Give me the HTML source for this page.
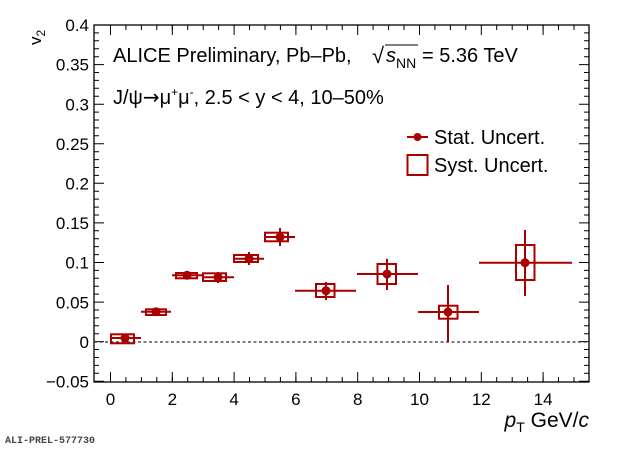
<!DOCTYPE html>
<html><head><meta charset="utf-8"><style>
html,body{margin:0;padding:0;background:#fff;}
svg{display:block;font-family:"Liberation Sans",sans-serif;}
</style></head><body>
<svg width="620" height="449" viewBox="0 0 620 449" xmlns="http://www.w3.org/2000/svg">
<rect x="94" y="25" width="495" height="357" fill="none" stroke="#000" stroke-width="1.3"/>
<g stroke="#000" stroke-width="1">
<path d="M110.5 382v-10M141.4 382v-5M172.3 382v-5M203.2 382v-5M234.1 382v-10M265 382v-5M295.9 382v-5M326.8 382v-5M357.7 382v-10M388.6 382v-5M419.5 382v-5M450.4 382v-5M481.3 382v-10M512.2 382v-5M543.1 382v-5M574 382v-5
M110.5 25v10M141.4 25v5M172.3 25v5M203.2 25v5M234.1 25v10M265 25v5M295.9 25v5M326.8 25v5M357.7 25v10M388.6 25v5M419.5 25v5M450.4 25v5M481.3 25v10M512.2 25v5M543.1 25v5M574 25v5
M125.9 382v-5M156.8 382v-5M187.7 382v-5M218.6 382v-5M249.5 382v-5M280.4 382v-5M311.3 382v-5M342.2 382v-5M373.1 382v-5M404 382v-5M434.9 382v-5M465.8 382v-5M496.7 382v-5M527.6 382v-5M558.5 382v-5
M125.9 25v5M156.8 25v5M187.7 25v5M218.6 25v5M249.5 25v5M280.4 25v5M311.3 25v5M342.2 25v5M373.1 25v5M404 25v5M434.9 25v5M465.8 25v5M496.7 25v5M527.6 25v5M558.5 25v5"/>
<path d="M172.3 382v-10M295.9 382v-10M419.5 382v-10M543.1 382v-10M172.3 25v10M295.9 25v10M419.5 25v10M543.1 25v10"/>
</g>
<g id="yt" stroke="#000" stroke-width="1"></g>
<line x1="94" y1="342" x2="589" y2="342" stroke="#333" stroke-width="1.2" stroke-dasharray="3,2.5"/>
<g font-size="17" fill="#000" text-anchor="end">
<text x="89" y="31">0.4</text><text x="89" y="70.6">0.35</text><text x="89" y="110.3">0.3</text><text x="89" y="149.9">0.25</text><text x="89" y="189.5">0.2</text><text x="89" y="229.1">0.15</text><text x="89" y="268.7">0.1</text><text x="89" y="308.4">0.05</text><text x="89" y="348">0</text><text x="89" y="387.6">−0.05</text>
</g>
<g font-size="17" fill="#000" text-anchor="middle">
<text x="110.5" y="405">0</text><text x="172.3" y="405">2</text><text x="234.1" y="405">4</text><text x="295.9" y="405">6</text><text x="357.7" y="405">8</text><text x="419.5" y="405">10</text><text x="481.3" y="405">12</text><text x="543.1" y="405">14</text>
</g>
<text transform="translate(41,45) rotate(-90)" font-size="17">v<tspan font-size="12" dy="4">2</tspan></text>
<text x="589" y="427" font-size="21" text-anchor="end"><tspan font-style="italic">p</tspan><tspan font-size="14" dy="5">T</tspan><tspan dy="-5"> GeV/</tspan><tspan font-style="italic">c</tspan></text>
<text x="5" y="443" font-family="Liberation Mono,monospace" font-size="10" font-weight="bold" fill="#444">ALI-PREL-577730</text>
<g font-size="20" fill="#000">
<text x="113" y="62">ALICE Preliminary, Pb–Pb,</text>
<text x="372" y="63" font-size="22">√</text>
<line x1="385" y1="45" x2="418" y2="45" stroke="#000" stroke-width="1"/>
<text x="386" y="62" font-style="italic">s</text><text x="396" y="68" font-size="14">NN</text>
<text x="422" y="62">= 5.36 TeV</text>
<text x="113" y="104">J/ψ<tspan font-family="DejaVu Sans,sans-serif">→</tspan>μ<tspan font-size="12" dy="-8">+</tspan><tspan dy="8">μ</tspan><tspan font-size="12" dy="-8">-</tspan><tspan dy="8">, 2.5 &lt; y &lt; 4, 10–50%</tspan></text>
<text x="434" y="144">Stat. Uncert.</text>
<text x="434" y="172">Syst. Uncert.</text>
</g>
<g stroke="#a00" fill="none" stroke-width="2">
<line x1="407" y1="137" x2="428" y2="137"/>
<rect x="407.5" y="155" width="20" height="20"/>
</g>
<circle cx="417.5" cy="137" r="4" fill="#a00"/>
<g stroke="#a00" stroke-width="2" fill="none">
<rect x="111" y="334.3" width="23" height="9"/>
<rect x="146" y="309.3" width="20" height="5.7"/>
<rect x="176" y="273" width="21" height="5.3"/>
<rect x="203" y="273.3" width="23" height="7.7"/>
<rect x="234" y="255" width="24" height="7"/>
<rect x="265" y="232.7" width="23" height="8.6"/>
<rect x="316" y="284" width="18.5" height="13"/>
<rect x="377.5" y="264" width="18.5" height="20"/>
<rect x="439" y="305.7" width="18.5" height="13"/>
<rect x="516" y="245" width="18.5" height="35"/>
<path d="M110 338H141M125 334v8
M141 311.7H171M156 308v8
M172 275.3H203M187 271v8
M203 277.3H234M218 272v11
M234 258.7H264M249 252v13
M264 237H295M280 228v18
M295 290.7H356M326 282v18
M357 274H418M387 258.7V290
M418 312H479M448 285V342
M479 262.7H572M525 230V296"/>
</g>
<g fill="#a00">
<circle cx="125" cy="338" r="4.5"/><circle cx="156" cy="311.7" r="4.5"/><circle cx="187" cy="275.3" r="4.5"/><circle cx="218" cy="277.3" r="4.5"/><circle cx="249" cy="258.7" r="4.5"/><circle cx="280" cy="237" r="4.5"/><circle cx="326" cy="290.7" r="4.5"/><circle cx="387" cy="274" r="4.5"/><circle cx="448" cy="312" r="4.5"/><circle cx="525" cy="262.7" r="4.5"/>
</g>
<script>
var g=document.getElementById('yt'),d='';
for(var i=0;i<=45;i++){var y=25+i*357/45.1;var L=(i%5==0)?10:5;d+='M94 '+y.toFixed(1)+'h'+L+'M589 '+y.toFixed(1)+'h-'+L;}
var p=document.createElementNS('http://www.w3.org/2000/svg','path');p.setAttribute('d',d);g.appendChild(p);
</script>
</svg>
</body></html>
